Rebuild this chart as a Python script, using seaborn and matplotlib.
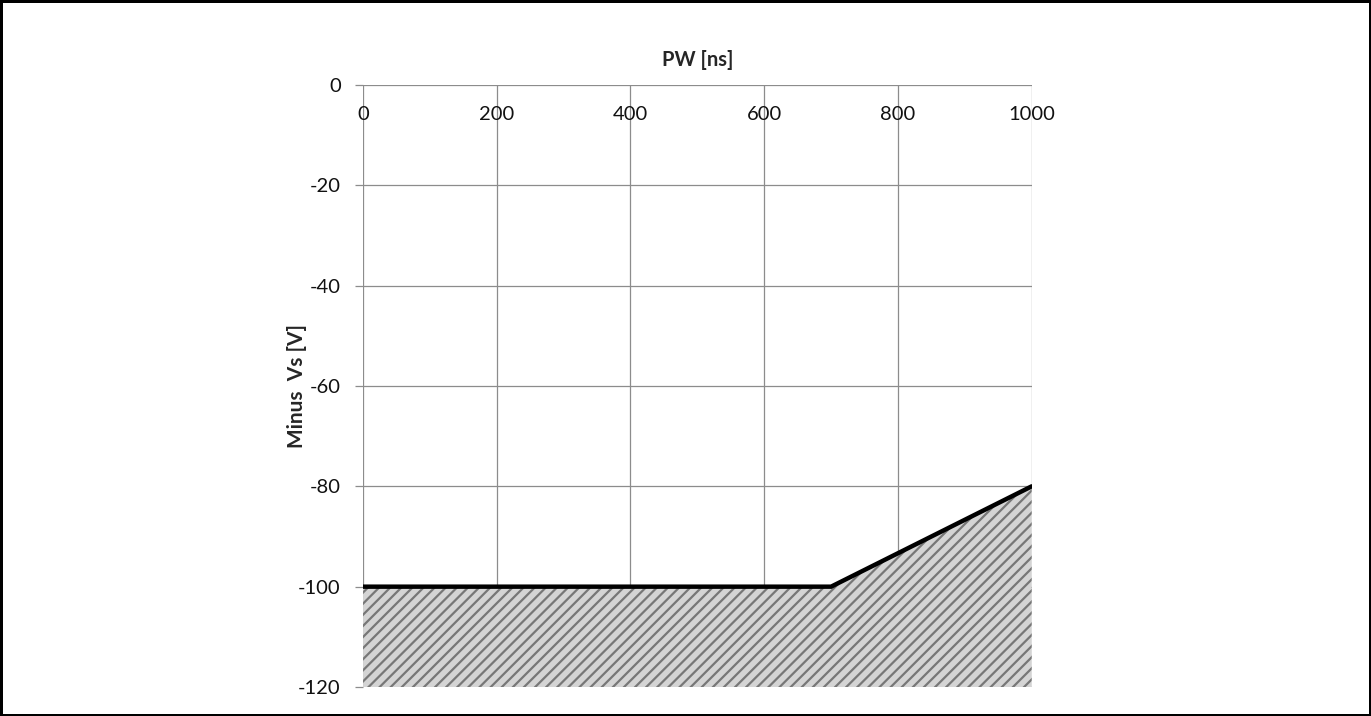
import matplotlib
matplotlib.use("Agg")
import matplotlib.pyplot as plt
import seaborn as sns
import pandas as pd

pw_ns = [0, 700, 1000]
minus_vs = [-100, -100, -80]
x_ticks = [0, 200, 400, 600, 800, 1000]
y_ticks = [0, -20, -40, -60, -80, -100, -120]

sns.set_style("white")
plt.rcParams['font.family'] = ['Lato', 'DejaVu Sans']
plt.rcParams['hatch.color'] = '#777777'
plt.rcParams['hatch.linewidth'] = 1.6

fig = plt.figure(figsize=(13.71, 7.16), dpi=100, edgecolor='black', linewidth=2.5)
ax = fig.add_axes([0.2648, 0.0405, 0.4877, 0.8408])

df = pd.DataFrame({"PW": pw_ns, "Vs": minus_vs})

ax.fill_between(df["PW"], df["Vs"], -120, facecolor='#d4d4d4', hatch='///',
                edgecolor='#777777', linewidth=0, zorder=2)
sns.lineplot(data=df, x="PW", y="Vs", ax=ax, color='black', linewidth=3.2,
             zorder=3, solid_joinstyle='miter')

ax.set_xlim(0, 1000)
ax.set_ylim(-120, 0)
ax.set_xticks(x_ticks)
ax.set_yticks(y_ticks)
ax.set_xticklabels([str(v) for v in x_ticks])
ax.set_yticklabels([str(v) for v in y_ticks])

ax.grid(True, color='#8c8c8c', linewidth=0.9)
ax.set_axisbelow(True)
for s in ax.spines.values():
    s.set_visible(False)

ax.xaxis.tick_top()
ax.xaxis.set_label_position('top')
ax.tick_params(axis='x', top=False, bottom=False, labeltop=True, labelbottom=False,
               pad=-31, labelsize=14.5, colors='#111111')
ax.tick_params(axis='y', left=True, length=6, width=0.9, color='#8c8c8c', pad=10,
               labelsize=14.5, labelcolor='#111111')

ax.set_xlabel("PW [ns]", fontsize=14.5, fontweight='bold', labelpad=14)
ax.set_ylabel("Minus  Vs [V]", fontsize=15, fontweight='bold')
ax.yaxis.set_label_coords(-0.084, 0.5)

fig.savefig("out.png", dpi=100)
